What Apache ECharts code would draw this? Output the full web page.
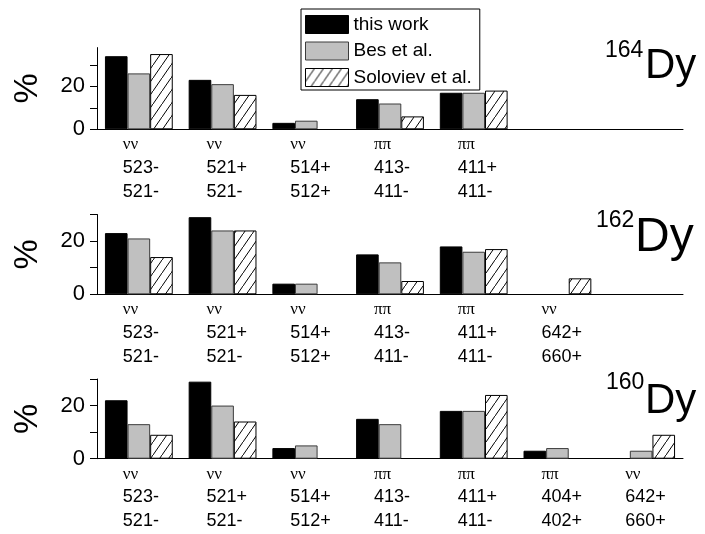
<!DOCTYPE html>
<html>
<head>
<meta charset="utf-8">
<script src="https://cdn.jsdelivr.net/npm/echarts@6/dist/echarts.min.js"></script>
<style>
  html, body { margin: 0; padding: 0; background: #fff; }
  #chart { width: 705px; height: 534px; }
</style>
</head>
<body>
<div id="chart"></div>
<script>
// Series names (legend order)
const seriesNames = ['this work', 'Bes et al.', 'Soloviev et al.'];

// Two-quasiparticle configurations on the x axis: pair type, first and second orbital
const pairTypes164 = ['νν', 'νν', 'νν', 'ππ', 'ππ', '', ''];
const upper164 = ['523-', '521+', '514+', '413-', '411+', '', ''];
const lower164 = ['521-', '521-', '512+', '411-', '411-', '', ''];

const pairTypes162 = ['νν', 'νν', 'νν', 'ππ', 'ππ', 'νν', ''];
const upper162 = ['523-', '521+', '514+', '413-', '411+', '642+', ''];
const lower162 = ['521-', '521-', '512+', '411-', '411-', '660+', ''];

const pairTypes160 = ['νν', 'νν', 'νν', 'ππ', 'ππ', 'ππ', 'νν'];
const upper160 = ['523-', '521+', '514+', '413-', '411+', '404+', '642+'];
const lower160 = ['521-', '521-', '512+', '411-', '411-', '402+', '660+'];

// Contributions in %
const thisWork164 = [34, 23, 3, 14, 17, null, null];
const bes164 = [26, 21, 4, 12, 17, null, null];
const soloviev164 = [35, 16, null, 6, 18, null, null];

const thisWork162 = [23, 29, 4, 15, 18, null, null];
const bes162 = [21, 24, 4, 12, 16, null, null];
const soloviev162 = [14, 24, null, 5, 17, 6, null];

const thisWork160 = [22, 29, 4, 15, 18, 3, null];
const bes160 = [13, 20, 5, 13, 18, 4, 3];
const soloviev160 = [9, 14, null, null, 24, null, 9];

// Y axis ranges and tick values
const yMax = [38, 30, 30];
const yTickValues = [0, 10, 20, 30];
const yLabelValues = [0, 20];

const isotopes = ['164', '162', '160'];

const panels = [
  { types: pairTypes164, up: upper164, low: lower164, data: [thisWork164, bes164, soloviev164] },
  { types: pairTypes162, up: upper162, low: lower162, data: [thisWork162, bes162, soloviev162] },
  { types: pairTypes160, up: upper160, low: lower160, data: [thisWork160, bes160, soloviev160] }
];

// Diagonal hatch tile for the third series
function hatchTile() {
  const w = 9, h = 13;
  const c = document.createElement('canvas');
  c.width = w; c.height = h;
  const ctx = c.getContext('2d');
  ctx.fillStyle = '#fff';
  ctx.fillRect(0, 0, w, h);
  ctx.strokeStyle = '#000';
  ctx.lineWidth = 1;
  ctx.beginPath();
  ctx.moveTo(-w, 2 * h); ctx.lineTo(2 * w, -h);
  ctx.stroke();
  return c;
}
const hatch = { image: hatchTile(), repeat: 'repeat' };

const seriesStyles = [
  { color: '#000', borderColor: '#000', borderWidth: 1 },
  { color: '#c0c0c0', borderColor: '#3c3c3c', borderWidth: 1 },
  { color: hatch, borderColor: '#000', borderWidth: 1 }
];

const SANS = 'Liberation Sans, Arial, sans-serif';
const SERIF = 'Liberation Serif, Times New Roman, serif';

// Plot areas (px)
const gridBoxes = [
  { top: 47.6, bottom: 129.3 },
  { top: 214.5, bottom: 294.3 },
  { top: 379.0, bottom: 458.7 }
];
const plotLeft = 97, plotRight = 683;

const grids = [], xAxes = [], yAxes = [], series = [];
panels.forEach((p, i) => {
  const gb = gridBoxes[i];
  grids.push({ left: plotLeft, width: plotRight - plotLeft, top: gb.top, height: gb.bottom - gb.top,
    containLabel: false, outerBoundsMode: 'none' });
  const cats = p.types.map((_, k) => String(k));
  // labelled axis with ticks under each category
  xAxes.push({
    type: 'category', gridIndex: i, position: 'bottom', data: cats,
    axisLine: { lineStyle: { color: '#000', width: 1 } },
    axisTick: { alignWithLabel: true, length: 7, lineStyle: { color: '#000' } },
    axisLabel: {
      interval: 0, margin: 4, color: '#000',
      formatter: (v, k) => p.types[k] ? '{g|' + p.types[k] + '}\n{n|' + p.up[k] + '}\n{n|' + p.low[k] + '}' : '',
      rich: {
        g: { fontFamily: SERIF, fontSize: 17, lineHeight: 23, width: 32, align: 'left', color: '#000' },
        n: { fontFamily: SANS, fontSize: 18, lineHeight: 23.5, width: 32, align: 'left', color: '#000' }
      }
    },
    splitLine: { show: false }
  });
  // short ticks on the category boundaries
  xAxes.push({
    type: 'category', gridIndex: i, position: 'bottom', data: cats,
    axisLine: { show: false },
    axisTick: { length: 4, lineStyle: { color: '#000' } },
    axisLabel: { show: false },
    splitLine: { show: false }
  });
  yAxes.push({
    type: 'value', gridIndex: i, min: 0, max: yMax[i],
    axisLine: { show: true, lineStyle: { color: '#000', width: 1 } },
    axisTick: { show: true, length: 7, customValues: yTickValues, lineStyle: { color: '#000' } },
    axisLabel: { customValues: yLabelValues, fontFamily: SANS, fontSize: 22, color: '#000', margin: 12 },
    splitLine: { show: false },
    name: '%', nameLocation: 'middle', nameRotate: 90, nameGap: 52,
    nameTextStyle: { fontFamily: SANS, fontSize: 34, color: '#000' }
  });
  p.data.forEach((vals, s) => {
    series.push({
      type: 'bar', name: seriesNames[s], xAxisIndex: 2 * i, yAxisIndex: i,
      data: vals, barGap: '0%', barCategoryGap: '19%',
      itemStyle: seriesStyles[s], emphasis: { disabled: true }, silent: true
    });
  });
});

// Isotope labels (mass number as superscript)
const isoPos = [
  { supX: 605, supTop: 39, x: 645, top: 45, size: 42 },
  { supX: 596, supTop: 209, x: 635, top: 214, size: 48 },
  { supX: 606, supTop: 371, x: 645, top: 380, size: 42 }
];
const graphics = [];
isotopes.forEach((a, i) => {
  const q = isoPos[i];
  graphics.push({ type: 'text', left: q.supX, top: q.supTop,
    style: { text: a, font: '23px ' + SANS, fill: '#000' } });
  graphics.push({ type: 'text', left: q.x, top: q.top,
    style: { text: 'Dy', font: q.size + 'px ' + SANS, fill: '#000' } });
});

const chart = echarts.init(document.getElementById('chart'), null, { renderer: 'canvas' });
chart.setOption({
  animation: false,
  backgroundColor: '#fff',
  grid: grids,
  xAxis: xAxes,
  yAxis: yAxes,
  series: series,
  legend: {
    data: seriesNames, orient: 'vertical', left: 301, top: 9,
    itemWidth: 43, itemHeight: 18, itemGap: 7.5,
    padding: [6, 8, 3, 4], borderColor: '#000', borderWidth: 1,
    icon: 'rect', selectedMode: false,
    itemStyle: { borderWidth: 1 },
    textStyle: { fontFamily: SANS, fontSize: 19, color: '#000' }
  },
  graphic: graphics
});
</script>
</body>
</html>
